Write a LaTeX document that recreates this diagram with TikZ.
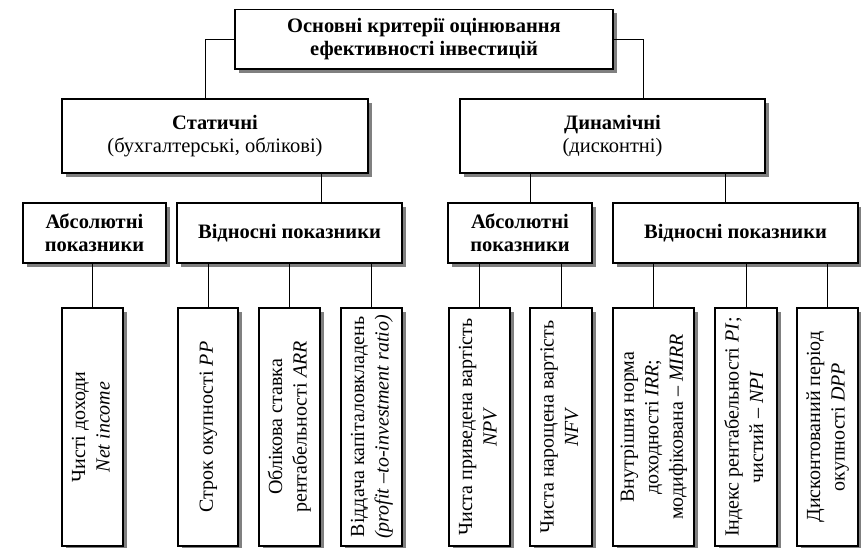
\documentclass[tikz,border=0pt]{standalone}
\usepackage{fontspec}
\setmainfont{Liberation Serif}
\usetikzlibrary{shadows}
\begin{document}
\begin{tikzpicture}[x=1pt,y=-1pt,
  box/.style={draw=black, line width=1.1pt, fill=white, inner sep=0pt, align=center,
    font=\fontsize{20.5}{23.5}\selectfont,
    general shadow={fill=black!50, shadow xshift=3.5pt, shadow yshift=-3.5pt}},
  conn/.style={draw=black, line width=1pt}]
\useasboundingbox (0,0) rectangle (861,547);
\fill[white] (0,0) rectangle (861,547);
% level 1
\node[box, minimum width=378pt, minimum height=59.5pt] (top) at (424,39.25)
  {\textbf{Основні критерії оцінювання}\\\textbf{ефективності інвестицій}};
% level 2
\node[box, minimum width=306pt, minimum height=74pt] (stat) at (215,136)
  {\textbf{Статичні}\\(бухгалтерські, облікові)};
\node[box, minimum width=305pt, minimum height=74pt] (dyn) at (612.5,136)
  {\textbf{Динамічні}\\(дисконтні)};
% level 3
\node[box, minimum width=143pt, minimum height=60pt] (abs1) at (94.5,233)
  {\textbf{Абсолютні}\\\textbf{показники}};
\node[box, minimum width=225pt, minimum height=60pt] (vid1) at (289.5,233)
  {\textbf{Відносні показники}};
\node[box, minimum width=144pt, minimum height=60pt] (abs2) at (520,233)
  {\textbf{Абсолютні}\\\textbf{показники}};
\node[box, minimum width=245pt, minimum height=60pt] (vid2) at (735.5,233)
  {\textbf{Відносні показники}};
% level 4
\tikzset{leaf/.style={box, minimum height=238pt, font=\fontsize{20}{24.5}\selectfont}}
\newcommand{\vtext}[1]{\rotatebox{90}{\begin{tabular}{@{}c@{}}#1\end{tabular}}}
\node[leaf, minimum width=61pt] (b1) at (92.5,427)
  {\vtext{Чисті доходи\\\textit{Net income}}};
\node[leaf, minimum width=60pt] (b2) at (208,427)
  {\vtext{Строк окупності \textit{PP}}};
\node[leaf, minimum width=61pt] (b3) at (289.5,427)
  {\vtext{Облікова ставка\\рентабельності \textit{ARR}}};
\node[leaf, minimum width=61pt] (b4) at (371.5,427)
  {\vtext{Віддача капіталовкладень\\\textit{(profit –to-investment ratio)}}};
\node[leaf, minimum width=61pt] (b5) at (479.5,427)
  {\vtext{Чиста приведена вартість\\\textit{NPV}}};
\node[leaf, minimum width=62pt] (b6) at (561,427)
  {\vtext{Чиста нарощена вартість\\\textit{NFV}}};
\node[leaf, minimum width=81pt] (b7) at (653.5,427)
  {\vtext{Внутрішня норма\\доходності \textit{IRR};\\модифікована – \textit{MIRR}}};
\node[leaf, minimum width=62pt] (b8) at (746,427)
  {\vtext{Індекс рентабельності \textit{PI};\\чистий – \textit{NPI}}};
\node[leaf, minimum width=61pt] (b9) at (827.5,427)
  {\vtext{Дисконтований період\\окупності \textit{DPP}}};
% connector bends
\coordinate (cl) at (205,0);
\coordinate (cr) at (643,0);
\coordinate (cs) at (321,0);
\coordinate (cd1) at (530,0);
\coordinate (cd2) at (725,0);
% connectors
\draw[conn] (top.west) -| (cl |- stat.north);
\draw[conn] (top.east) -| (cr |- dyn.north);
\draw[conn] (cs |- stat.south) -- (cs |- vid1.north);
\draw[conn] (cd1 |- dyn.south) -- (cd1 |- abs2.north);
\draw[conn] (cd2 |- dyn.south) -- (cd2 |- vid2.north);
\draw[conn] (b1.north |- abs1.south) -- (b1.north);
\foreach \b in {b2,b3,b4} \draw[conn] (\b.north |- vid1.south) -- (\b.north);
\foreach \b in {b5,b6} \draw[conn] (\b.north |- abs2.south) -- (\b.north);
\foreach \b in {b7,b8,b9} \draw[conn] (\b.north |- vid2.south) -- (\b.north);
\end{tikzpicture}
\end{document}
